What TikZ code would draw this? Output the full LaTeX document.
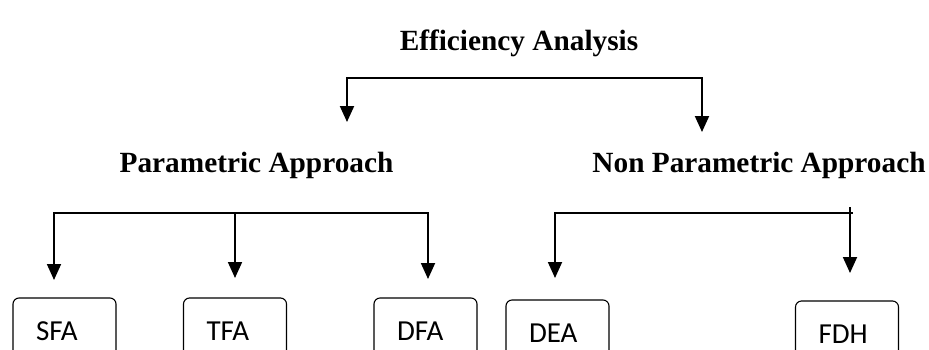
\documentclass[tikz,border=0pt]{standalone}
\usepackage{fontspec}
\setmainfont{Liberation Serif}
\newfontfamily\boxfont{Carlito}
\usetikzlibrary{arrows.meta}

\begin{document}
\begin{tikzpicture}[x=1pt,y=-1pt,>={Triangle[length=16pt,width=14pt]},
        head/.style={font=\fontsize{29.3}{32}\selectfont\bfseries,anchor=base,inner sep=0pt},
        method/.style={draw,line width=1.1pt,rounded corners=6pt,minimum height=66pt,
            inner xsep=23pt,inner ysep=0pt,text width=57pt,align=left,
            font=\boxfont\fontsize{29}{30}\selectfont},
        link/.style={line width=1.8pt}]
        \clip (0,0) rectangle (929,349);
        \useasboundingbox (0,0) rectangle (929,349);
        \node[head] (eff) at (519,50) {Efficiency Analysis};
        \node[head] (par) at (256.5,172) {Parametric Approach};
        \node[head] (nonpar) at (759,172) {Non Parametric Approach};
        \node[method] (sfa) at (64.5,331) {SFA};
        \node[method] (tfa) at (235,331) {TFA};
        \node[method] (dfa) at (425.5,331) {DFA};
        \node[method] (dea) at (557.5,333) {DEA};
        \node[method] (fdh) at (847,334) {FDH};
        % first split
        \coordinate (barE) at (702,78);
        \coordinate (tipP) at (347,122);
        \coordinate (tipN) at (702,132);
        \draw[link,line width=2pt,<->] (tipP) |- (barE) -- (tipN);
        % parametric methods
        \coordinate (barP) at (428,213);
        \coordinate (tipS) at (54,280);
        \coordinate (tipT) at (235,278);
        \coordinate (tipD) at (428,279);
        \draw[link,<->] (tipS) |- (barP) -- (tipD);
        \draw[link,->] (tipT |- barP) -- (tipT);
        % non parametric methods
        \coordinate (barN) at (853,213);
        \coordinate (tipA) at (555,278);
        \coordinate (stubH) at (850,207);
        \coordinate (tipH) at (850,273);
        \draw[link,<-] (tipA) |- (barN);
        \draw[link,->] (stubH) -- (tipH);
\end{tikzpicture}
\end{document}
